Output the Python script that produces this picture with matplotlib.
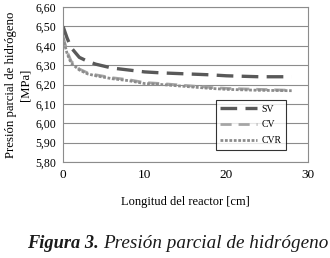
import matplotlib
matplotlib.use("Agg")
import matplotlib.pyplot as plt
from matplotlib.ticker import FuncFormatter

x_cm = [0, 0.5, 1, 2, 3, 4, 6, 8, 10, 12, 15, 18, 20, 24, 28]
sv = [6.50, 6.44, 6.39, 6.34, 6.32, 6.305, 6.285, 6.275, 6.265, 6.26, 6.255, 6.25, 6.245, 6.24, 6.24]
cv = [6.45, 6.37, 6.32, 6.28, 6.26, 6.25, 6.235, 6.225, 6.21, 6.205, 6.195, 6.185, 6.18, 6.175, 6.17]
cvr = [6.44, 6.36, 6.31, 6.275, 6.255, 6.245, 6.23, 6.22, 6.205, 6.2, 6.19, 6.18, 6.175, 6.17, 6.168]
y_ticks = [5.80, 5.90, 6.00, 6.10, 6.20, 6.30, 6.40, 6.50, 6.60]
x_ticks = [0, 10, 20, 30]

plt.rcParams['font.family'] = ['Liberation Serif']

fig = plt.figure(figsize=(3.30, 2.58), dpi=100)
ax = fig.add_axes([63/330, 1 - 162/258, (308-63)/330, (162-7)/258])

ax.plot(x_cm, sv, color='#595959', lw=2.4, dashes=(5, 2.5), label='SV')
ax.plot(x_cm, cv, color='#a6a6a6', lw=2.0, dashes=(4, 2.5), label='CV')
ax.plot(x_cm, cvr, color='#8c8c8c', lw=2.0, dashes=(1, 0.6), label='CVR')

ax.set_xlim(0, 30)
ax.set_ylim(5.80, 6.60)
ax.set_yticks(y_ticks)
ax.set_xticks(x_ticks)
ax.yaxis.set_major_formatter(FuncFormatter(lambda v, p: f"{v:.2f}".replace('.', ',')))
ax.grid(axis='y', color='#8c8c8c', lw=0.8)
ax.set_axisbelow(True)
for s in ax.spines.values():
    s.set_color('#8c8c8c')
    s.set_linewidth(0.8)
ax.tick_params(axis='y', length=0, labelsize=8.5, pad=5)
ax.tick_params(axis='x', length=0, labelsize=9.5, pad=5)

ax.set_xlabel('Longitud del reactor [cm]', fontsize=9, labelpad=11)
ax.set_ylabel('Presión parcial de hidrógeno\n[MPa]', fontsize=9.2, labelpad=3, linespacing=1.25)

leg = ax.legend(loc='lower right', bbox_to_anchor=(291/330, 1-155/258), bbox_transform=fig.transFigure,
                fontsize=7, frameon=True, fancybox=False, handlelength=3.8, borderpad=0.5,
                labelspacing=0.7, handletextpad=0.4)
leg.get_frame().set_edgecolor('#000000')
leg.get_frame().set_linewidth(0.8)

fig.text(27/330, 1-243/258, 'Figura 3.', fontsize=13.2, style='italic', weight='bold', va='center', ha='left', color='#1a1a1a')
fig.text(328/330, 1-243/258, 'Presión parcial de hidrógeno', fontsize=13.8, style='italic', va='center', ha='right', color='#1a1a1a')

fig.savefig('out.png', dpi=100)
